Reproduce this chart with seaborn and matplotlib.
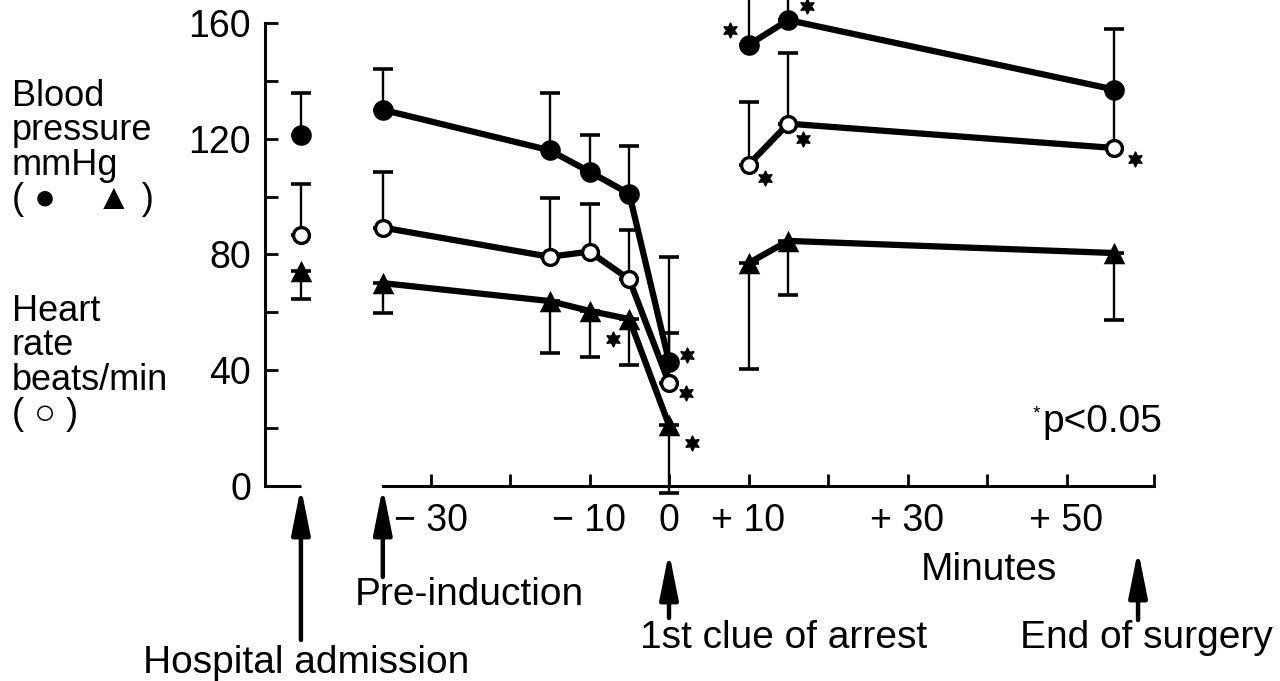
import numpy as np
import pandas as pd
import matplotlib.pyplot as plt
import seaborn as sns

# time points, minutes relative to the 1st clue of arrest
admit_time = -46.3
times = [-36, -15, -10, -5, 0, 10, 15, 56]
segment = ['pre', 'pre', 'pre', 'pre', 'pre', 'post', 'post', 'post']

# blood pressure, filled circles (mmHg)
bp_admit = 121.3
bp_admit_top = 135.8
bp = [130, 116, 108.6, 101, 43, 152.4, 161, 137]
bp_top = [144, 135.7, 121.3, 117.5, 79, 175, 175, 158]

# heart rate, open circles (beats/min)
hr_admit = 86.7
hr_admit_top = 104.2
hr = [89.3, 79.2, 81, 71.4, 35.6, 111, 125.2, 116.8]
hr_top = [108.6, 99.4, 97.4, 88.5, 52.9, 132.7, 149.6, 137]

# blood pressure, filled triangles (mmHg)
tri_admit = 74.3
tri_admit_low = 64.6
tri = [70.1, 63.9, 60.5, 57.7, 21, 77, 84.7, 80.5]
tri_low = [59.7, 46, 44.7, 41.8, -2.4, 40.4, 66, 57.4]

# significance marks (*p<0.05)
star_x = [-7, 2.3, 2.1, 2.9, 7.7, 17.4, 12.1, 16.9, 58.6]
star_y = [50.8, 45.3, 32, 15, 157.6, 166, 106.4, 120, 113]

xtick_pos = [-30, -20, -10, 0, 10, 20, 30, 40, 50, 61]
xtick_labels = ['\u2212 30', '', '\u2212 10', '0', '+ 10', '', '+ 30', '', '+ 50', '']
ytick_pos = [0, 20, 40, 60, 80, 100, 120, 140, 160]
ytick_labels = ['0', '', '40', '', '80', '', '120', '', '160']

sns.set_theme(style='white', color_codes=False)
plt.rcParams['font.family'] = ['Liberation Sans', 'DejaVu Sans']
plt.rcParams['text.color'] = 'black'

K = '#000000'
W, H = 1280, 681
fig = plt.figure(figsize=(W / 100, H / 100), dpi=100)

# pixel geometry of the original figure
x0_px, px_per_min = 669, 7.95
y0_px, px_per_unit = 486, 2.894
ax_left_px, ax_bottom_px = 265, 510
ax = fig.add_axes([ax_left_px / W, (H - ax_bottom_px) / H,
                   (W - ax_left_px) / W, ax_bottom_px / H])
ax.set_xlim((ax_left_px - x0_px) / px_per_min, (W - x0_px) / px_per_min)
ax.set_ylim((y0_px - ax_bottom_px) / px_per_unit, y0_px / px_per_unit)
ax.patch.set_alpha(0)

# error bars (one sided)
t = np.array(times)
for y, lim, up in [(bp, bp_top, True), (hr, hr_top, True), (tri, tri_low, False)]:
    y = np.array(y)
    d = np.abs(np.array(lim) - y)
    z = np.zeros_like(d)
    ax.errorbar(t, y, yerr=[z, d] if up else [d, z], fmt='none', ecolor=K,
                elinewidth=1.7, capsize=7, capthick=2.6, zorder=1.5)
ax.errorbar([admit_time] * 3, [bp_admit, hr_admit, tri_admit],
            yerr=[[0, 0, tri_admit - tri_admit_low],
                  [bp_admit_top - bp_admit, hr_admit_top - hr_admit, 0]],
            fmt='none', ecolor=K, elinewidth=1.7, capsize=7, capthick=2.6, zorder=1.5)

# connecting lines
frames = []
for name, vals in [('bp', bp), ('hr', hr), ('tri', tri)]:
    frames.append(pd.DataFrame({'time': times, 'value': vals,
                                'unit': [name + s for s in segment]}))
df = pd.concat(frames)
sns.lineplot(data=df, x='time', y='value', units='unit', estimator=None,
             color=K, lw=4.5, ax=ax, zorder=2)

# markers
bp_x = [admit_time] + times
sns.scatterplot(x=bp_x, y=[bp_admit] + bp, marker='o', s=220, color=K,
                edgecolor=K, linewidth=0, ax=ax, zorder=4)
sns.scatterplot(x=bp_x, y=[tri_admit] + tri, marker='^', s=240, color=K,
                edgecolor=K, linewidth=0, ax=ax, zorder=4)
sns.scatterplot(x=bp_x, y=[hr_admit] + hr, marker='o', s=130, color='white',
                edgecolor=K, linewidth=2.4, ax=ax, zorder=5)
sns.scatterplot(x=star_x, y=star_y, marker=(6, 1, 0), s=110, color=K,
                edgecolor=K, linewidth=1.2, ax=ax, zorder=5)

# axes styling
for s in ['top', 'right']:
    ax.spines[s].set_visible(False)
ax.spines['left'].set_bounds(0, 160)
ax.spines['bottom'].set_position(('data', 0))
ax.spines['bottom'].set_bounds(-36, 61)
for s in ['left', 'bottom']:
    ax.spines[s].set_linewidth(2.2)
    ax.spines[s].set_color(K)
ax.plot([ax.get_xlim()[0], admit_time], [0, 0], color=K, lw=2.2,
        clip_on=False, solid_capstyle='butt')

ax.set_xticks(xtick_pos)
ax.set_xticklabels(xtick_labels)
ax.set_yticks(ytick_pos)
ax.set_yticklabels(ytick_labels)
ax.tick_params(axis='both', direction='in', length=9, width=2, color=K,
               labelsize=27, labelcolor=K)
ax.tick_params(axis='x', pad=12, bottom=True)
ax.tick_params(axis='y', pad=10, left=True)
ax.set_xlabel('')
ax.set_ylabel('')

# event arrows below the axis
arrows = [(admit_time, 487, 640), (-36, 487, 577), (0, 552, 618), (59, 550, 620)]
for x, tip, base in arrows:
    ax.annotate('', xy=(x, H - tip), xytext=(x, H - base),
                xycoords=('data', 'figure pixels'), textcoords=('data', 'figure pixels'),
                arrowprops=dict(arrowstyle='-|>,head_length=1.4,head_width=0.28',
                                color=K, lw=3.2, mutation_scale=20,
                                shrinkA=0, shrinkB=0),
                annotation_clip=False)

fs = 28
fig.text(143 / W, 1 - 663 / H, 'Hospital admission', fontsize=fs, ha='left', va='center')
fig.text(355 / W, 1 - 595 / H, 'Pre-induction', fontsize=fs, ha='left', va='center')
fig.text(640 / W, 1 - 638 / H, '1st clue of arrest', fontsize=fs, ha='left', va='center')
fig.text(1020 / W, 1 - 638 / H, 'End of surgery', fontsize=fs, ha='left', va='center')
fig.text(989 / W, 1 - 570 / H, 'Minutes', fontsize=fs, ha='center', va='center')
fig.text(1162 / W, 1 - 422 / H, 'p<0.05', fontsize=fs, ha='right', va='center')
fig.text(1036 / W, 1 - 414 / H, '*', fontsize=14, ha='center', va='center')

fig.text(12 / W, 1 - 148 / H, 'Blood\npressure\nmmHg\n( \u25cf    \u25b2 )', fontsize=26,
         ha='left', va='center', linespacing=0.98)
fig.text(12 / W, 1 - 363 / H, 'Heart\nrate\nbeats/min\n( \u25cb )', fontsize=26,
         ha='left', va='center', linespacing=0.98)

fig.savefig('out.png', dpi=100)
